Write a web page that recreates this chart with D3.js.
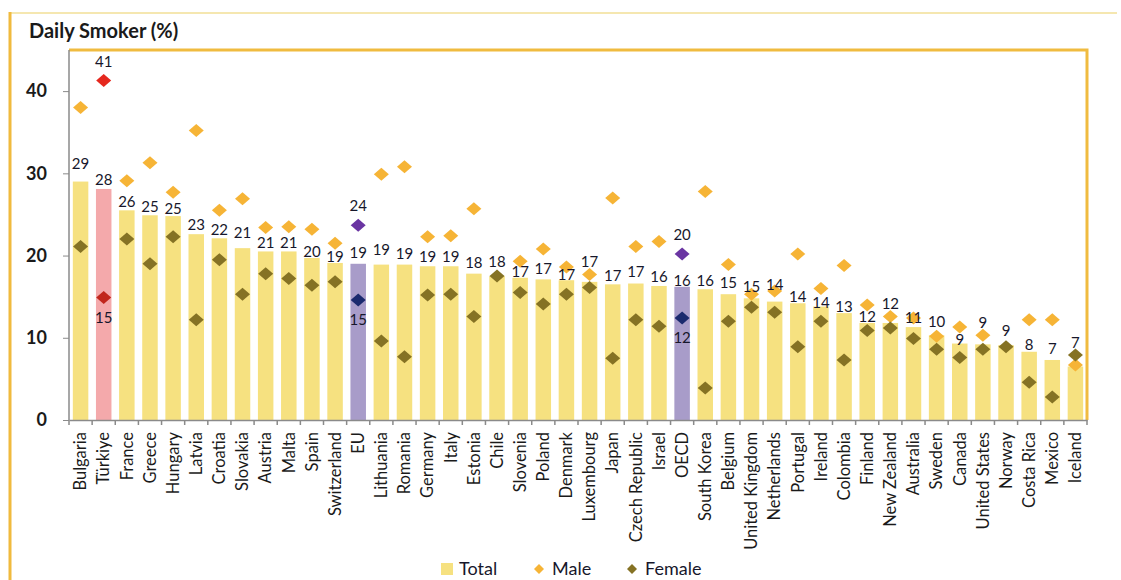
<!DOCTYPE html>
<html>
<head>
<meta charset="utf-8">
<script src="https://cdn.jsdelivr.net/npm/d3@7"></script>
<style>
	body { margin: 0; background: #fff; }
	svg { display: block; font-family: Lato, "Open Sans", sans-serif; }
</style>
</head>
<body>
<svg id="chart" width="1121" height="580"></svg>
<script>
var countries = ["Bulgaria", "Türkiye", "France", "Greece", "Hungary", "Latvia", "Croatia", "Slovakia", "Austria", "Malta", "Spain", "Switzerland", "EU", "Lithuania", "Romania", "Germany", "Italy", "Estonia", "Chile", "Slovenia", "Poland", "Denmark", "Luxembourg", "Japan", "Czech Republic", "Israel", "OECD", "South Korea", "Belgium", "United Kingdom", "Netherlands", "Portugal", "Ireland", "Colombia", "Finland", "New Zealand", "Australia", "Sweden", "Canada", "United States", "Norway", "Costa Rica", "Mexico", "Iceland"];
var total = [29.0, 28.1, 25.5, 24.9, 24.8, 22.6, 22.1, 20.9, 20.5, 20.5, 19.7, 19.1, 19.0, 18.9, 18.9, 18.7, 18.7, 17.8, 17.5, 17.3, 17.1, 17.0, 16.8, 16.5, 16.6, 16.3, 16.2, 15.9, 15.3, 14.8, 14.4, 14.2, 13.8, 13.0, 11.8, 11.8, 11.3, 10.3, 9.3, 9.2, 9.1, 8.3, 7.3, 6.5];
var male = [38.0, 41.3, 29.1, 31.3, 27.7, 35.2, 25.5, 26.9, 23.4, 23.5, 23.2, 21.5, 23.7, 29.9, 30.8, 22.3, 22.4, 25.7, null, 19.3, 20.8, 18.6, 17.7, 27.0, 21.1, 21.7, 20.2, 27.8, 18.9, 15.3, 15.7, 20.2, 16.0, 18.8, 14.0, 12.6, 12.4, 10.2, 11.3, 10.3, null, 12.2, 12.2, 6.7];
var female = [21.1, 14.9, 22.0, 19.0, 22.3, 12.2, 19.5, 15.3, 17.8, 17.2, 16.4, 16.8, 14.6, 9.6, 7.7, 15.2, 15.3, 12.6, 17.5, 15.5, 14.1, 15.3, 16.1, 7.5, 12.2, 11.4, 12.4, 3.9, 12.0, 13.7, 13.1, 8.9, 12.0, 7.3, 10.9, 11.2, 9.9, 8.6, 7.6, 8.6, 8.9, 4.6, 2.8, 7.9];
var yTicks = [0, 10, 20, 30, 40];
var highlighted = ["Türkiye", "EU", "OECD"];

var svg = d3.select("#chart");
var margin = {top: 50, right: 34, bottom: 160, left: 69},
	width = +svg.attr("width") - margin.left - margin.right,
	height = +svg.attr("height") - margin.top - margin.bottom;

var colours = {
	bar: "#f6e180", male: "#f6b436", female: "#857224",
	"Türkiye": {bar: "#f4a9ab", male: "#e5281e", female: "#c1261c"},
	"EU": {bar: "#a89cc9", male: "#6a35a2", female: "#1b2a6e"},
	"OECD": {bar: "#a89cc9", male: "#6a35a2", female: "#1b2a6e"}
};
function col(name, key) {
	return colours[name] ? colours[name][key] : colours[key];
}
var ink = "#17172b";

// outer frame
svg.append("line").attr("x1", 10).attr("x2", 1117).attr("y1", 13).attr("y2", 13)
	.attr("stroke", "#f2df96").attr("stroke-width", 1.5);
svg.append("line").attr("x1", 10).attr("x2", 10).attr("y1", 12).attr("y2", 580)
	.attr("stroke", "#f0ba3e").attr("stroke-width", 3);

svg.append("text").attr("x", 29).attr("y", 38)
	.attr("font-size", 20).attr("font-weight", "bold").attr("fill", "#1a1a1a")
	.text("Daily Smoker (%)");

var g = svg.append("g").attr("transform", "translate(" + margin.left + "," + margin.top + ")");

var x = d3.scaleBand().domain(countries).range([0, width]).paddingInner(0.33).paddingOuter(0.165);
var y = d3.scaleLinear().domain([0, 45]).range([height, 0]);

var data = countries.map(function (c, i) {
	return {name: c, total: total[i], male: male[i], female: female[i]};
});

// plot frame top / right
g.append("path")
	.attr("d", "M0,0H" + width + "V" + height)
	.attr("fill", "none").attr("stroke", "#f0bb40").attr("stroke-width", 3);

g.selectAll(".bar")
	.data(data)
	.enter().append("rect")
	.attr("class", "bar")
	.attr("x", function (d) { return x(d.name); })
	.attr("y", function (d) { return y(d.total); })
	.attr("width", x.bandwidth())
	.attr("height", function (d) { return height - y(d.total); })
	.attr("fill", function (d) { return col(d.name, "bar"); });

var diamond = "M0,-6.5L7.5,0L0,6.5L-7.5,0Z";
function cx(d) { return x(d.name) + x.bandwidth() / 2; }

g.selectAll(".male")
	.data(data.filter(function (d) { return d.male != null; }))
	.enter().append("path")
	.attr("class", "male")
	.attr("d", diamond)
	.attr("transform", function (d) { return "translate(" + cx(d) + "," + y(d.male) + ")"; })
	.attr("fill", function (d) { return col(d.name, "male"); });

g.selectAll(".female")
	.data(data.filter(function (d) { return d.female != null; }))
	.enter().append("path")
	.attr("class", "female")
	.attr("d", diamond)
	.attr("transform", function (d) { return "translate(" + cx(d) + "," + y(d.female) + ")"; })
	.attr("fill", function (d) { return col(d.name, "female"); });

// distance of each total label above its bar (px)
var lift = {"Bulgaria": 18, "Slovakia": 15, "EU": 11, "Lithuania": 15, "Romania": 11, "Estonia": 11, "Chile": 14,
	"Poland": 11, "Luxembourg": 20, "Czech Republic": 12, "Belgium": 11, "United Kingdom": 12, "Netherlands": 17,
	"New Zealand": 19, "Sweden": 14, "United States": 22, "Norway": 14, "Mexico": 11, "Iceland": 24,
	"Spain": 6, "Switzerland": 6, "Slovenia": 6, "Denmark": 5, "OECD": 6, "Portugal": 6, "Ireland": 4,
	"Colombia": 6, "Finland": 6, "Canada": 4, "Costa Rica": 7, "Hungary": 7};

g.selectAll(".val")
	.data(data)
	.enter().append("text")
	.attr("class", "val")
	.attr("x", cx)
	.attr("y", function (d) { return y(d.total) - (lift[d.name] || 9); })
	.attr("dy", "0.35em")
	.attr("text-anchor", "middle")
	.attr("font-size", 15)
	.attr("fill", ink)
	.text(function (d) { return Math.round(d.total); });

var special = data.filter(function (d) { return highlighted.indexOf(d.name) >= 0; });
g.selectAll(".mval")
	.data(special)
	.enter().append("text")
	.attr("x", cx)
	.attr("y", function (d) { return y(d.male) - 19; })
	.attr("dy", "0.35em")
	.attr("text-anchor", "middle")
	.attr("font-size", 15)
	.attr("fill", ink)
	.text(function (d) { return Math.round(d.male); });
g.selectAll(".fval")
	.data(special)
	.enter().append("text")
	.attr("x", cx)
	.attr("y", function (d) { return y(d.female) + 20; })
	.attr("dy", "0.35em")
	.attr("text-anchor", "middle")
	.attr("font-size", 15)
	.attr("fill", ink)
	.text(function (d) { return Math.round(d.female); });

// y axis
var yAxis = g.append("g")
	.call(d3.axisLeft(y).tickValues(yTicks).tickSize(6).tickPadding(16).tickSizeOuter(0));
yAxis.select(".domain").attr("stroke", "#8a8a8a").attr("stroke-width", 1.5).attr("d", "M0,0V" + height);
yAxis.selectAll(".tick line").attr("stroke", "#8a8a8a");
yAxis.selectAll(".tick text").attr("font-size", 18).attr("font-weight", "bold").attr("fill", "#1a1a1a")
	.attr("font-family", "Lato, sans-serif");

// x axis
var xAxis = g.append("g")
	.attr("transform", "translate(0," + height + ")")
	.call(d3.axisBottom(x).tickSize(0).tickSizeOuter(0));
xAxis.select(".domain").attr("stroke", "#8a8a8a").attr("stroke-width", 1.5);
xAxis.selectAll(".tick text")
	.attr("transform", "rotate(-90)")
	.attr("x", -12)
	.attr("y", 0)
	.attr("dy", "0.35em")
	.attr("text-anchor", "end")
	.attr("font-size", 16.5)
	.attr("fill", "#1a1a1a")
	.attr("font-family", "Lato, sans-serif");

var step = x.step();
var firstEdge = x(countries[0]) - (step - x.bandwidth()) / 2;
xAxis.selectAll(".sep")
	.data(d3.range(countries.length + 1))
	.enter().append("line")
	.attr("x1", function (i) { return firstEdge + i * step; })
	.attr("x2", function (i) { return firstEdge + i * step; })
	.attr("y1", 0).attr("y2", 5)
	.attr("stroke", "#8a8a8a").attr("stroke-width", 1.5);

// legend
var legend = svg.append("g").attr("transform", "translate(441,569)").attr("font-size", 18).attr("fill", ink);
legend.append("rect").attr("x", 0).attr("y", -6).attr("width", 12).attr("height", 12).attr("fill", colours.bar);
legend.append("text").attr("x", 18).attr("dy", "0.35em").text("Total");
legend.append("path").attr("d", "M0,-5L5,0L0,5L-5,0Z").attr("transform", "translate(98,0)").attr("fill", colours.male);
legend.append("text").attr("x", 111).attr("dy", "0.35em").text("Male");
legend.append("path").attr("d", "M0,-5L5,0L0,5L-5,0Z").attr("transform", "translate(191,0)").attr("fill", colours.female);
legend.append("text").attr("x", 204).attr("dy", "0.35em").text("Female");
</script>
</body>
</html>
